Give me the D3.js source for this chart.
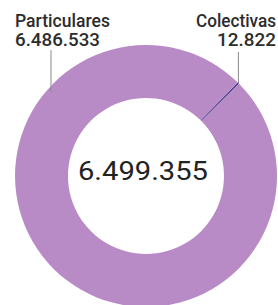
<!DOCTYPE html>
<html><head><meta charset="utf-8">
<script src="https://cdn.jsdelivr.net/npm/d3@7"></script>
<style>body{margin:0;background:#fff}svg{display:block}</style>
</head><body>
<script>
const categories = ["Colectivas", "Particulares"];
const values = [12822, 6486533];
const valueLabels = ["12.822", "6.486.533"];
const totalLabel = "6.499.355";

const W = 278, H = 305, cx = 146, cy = 176, rO = 131, rI = 78;
const colors = {"Particulares": "#b98bc6", "Colectivas": "#3f3b8e"};
const svg = d3.select("body").append("svg").attr("width", W).attr("height", H);
const g = svg.append("g").attr("transform", `translate(${cx},${cy})`);

const a0 = 44.5 * Math.PI / 180;
const pie = d3.pie().sort(null).startAngle(a0).endAngle(a0 + 2 * Math.PI);
const arcs = pie(values);
const arc = d3.arc().innerRadius(rI).outerRadius(rO);

g.selectAll("path").data(arcs).join("path")
  .attr("d", arc)
  .attr("fill", (d, i) => colors[categories[i]]);

const font = "Roboto, 'Open Sans', sans-serif";
const midOuter = d => {
  const a = (d.startAngle + d.endAngle) / 2;
  return [Math.sin(a) * rO, -Math.cos(a) * rO];
};
const colPt = midOuter(arcs[0]);
svg.append("line").attr("x1", cx + colPt[0]).attr("x2", cx + colPt[0])
  .attr("y1", 52).attr("y2", cy + colPt[1])
  .attr("stroke", "#8a8a8a").attr("stroke-width", 1);
svg.append("line").attr("x1", 51).attr("x2", 51)
  .attr("y1", 50).attr("y2", 92)
  .attr("stroke", "#8a8a8a").attr("stroke-width", 1);

// labels condensed horizontally with a scale transform to fit target widths
function label(x, y, txt, size, anchor, len) {
  const gg = svg.append("g").attr("transform", `translate(${x},${y})`);
  const t = gg.append("text").text(txt)
    .attr("font-family", font).attr("font-size", size).attr("font-weight", 500)
    .attr("fill", "#2c2c2c").attr("text-anchor", anchor);
  const w = t.node().getComputedTextLength();
  gg.attr("transform", `translate(${x},${y}) scale(${len / w},1)`);
}
label(15, 26.5, categories[1], 19, "start", 95);
label(15, 46, valueLabels[1], 18.5, "start", 85);
label(276, 26.5, categories[0], 19, "end", 80);
label(276, 46, valueLabels[0], 18.5, "end", 59);

svg.append("text").attr("x", 143).attr("y", 180).text(totalLabel)
  .attr("font-family", font).attr("font-size", 25).attr("font-weight", 400)
  .attr("fill", "#222").attr("text-anchor", "middle")
  .attr("textLength", 130).attr("lengthAdjust", "spacingAndGlyphs");
</script>
</body></html>
